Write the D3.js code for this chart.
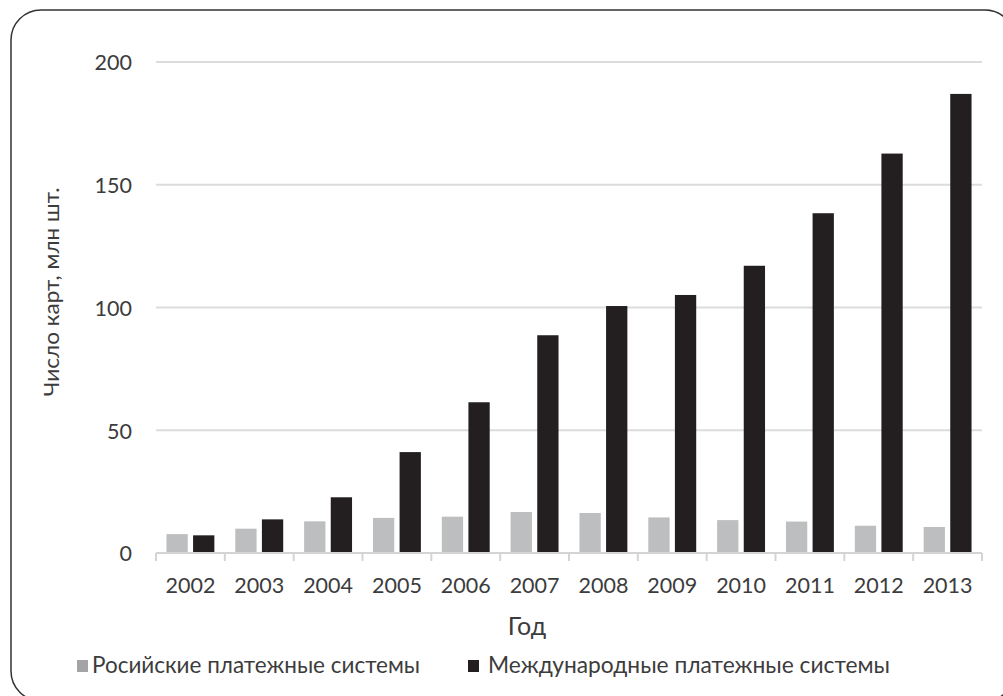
<!DOCTYPE html>
<html>
<head>
<meta charset="utf-8">
<script src="https://cdn.jsdelivr.net/npm/d3@7"></script>
<style>
  html, body { margin: 0; padding: 0; background: #fff; }
  svg { display: block; }
  text { font-family: Lato, "Open Sans", sans-serif; fill: #3c3c3c; }
</style>
</head>
<body>
<svg id="chart" width="1003" height="696"></svg>
<script>
const years = ["2002","2003","2004","2005","2006","2007","2008","2009","2010","2011","2012","2013"];
const russian = [7.7, 9.9, 12.9, 14.3, 14.8, 16.7, 16.3, 14.5, 13.4, 12.8, 11.1, 10.6];
const international = [7.2, 13.7, 22.7, 41.1, 61.4, 88.7, 100.6, 105.1, 117.0, 138.4, 162.7, 187.0];
const yTicks = [0, 50, 100, 150, 200];
const seriesNames = ["Росийские платежные системы", "Международные платежные системы"];
const seriesKeys = ["ru", "intl"];
const yTitle = "Число карт, млн шт.";
const xTitle = "Год";

const barColors = { ru: "#bdbec0", intl: "#231f20" };
const legendColors = { ru: "#a3a4a6", intl: "#231f20" };

const svg = d3.select("#chart");

// frame
svg.append("rect")
  .attr("x", 11).attr("y", 10)
  .attr("width", 1004).attr("height", 691)
  .attr("rx", 30).attr("ry", 30)
  .attr("fill", "none").attr("stroke", "#333").attr("stroke-width", 1.5);

const pLeft = 156, pRight = 982, pTop = 62, pBottom = 553;

const x = d3.scaleBand().domain(years).range([pLeft, pRight]).padding(0);
const xi = d3.scaleBand().domain(seriesKeys).range([0, x.bandwidth()])
  .paddingInner(0.2).paddingOuter(0.393);
const y = d3.scaleLinear().domain([0, 200]).range([pBottom, pTop]);

// gridlines
svg.append("g").selectAll("line").data(yTicks.filter(d => d > 0)).join("line")
  .attr("x1", pLeft).attr("x2", pRight)
  .attr("y1", d => y(d)).attr("y2", d => y(d))
  .attr("stroke", "#dcdcdc").attr("stroke-width", 2);

// y labels
const yAxis = d3.axisLeft(y).tickValues(yTicks).tickSize(0).tickPadding(0);
const gy = svg.append("g").attr("transform", `translate(132,0)`).call(yAxis);
gy.select(".domain").remove();
gy.selectAll("text").attr("font-size", 21.5).style("font-family", "Lato, 'Open Sans', sans-serif")
  .attr("fill", "#3c3c3c").attr("dy", "0.36em");

// data
const data = years.map((yr, i) => ({ year: yr, ru: russian[i], intl: international[i] }));

const groups = svg.append("g").selectAll("g").data(data).join("g")
  .attr("transform", d => `translate(${x(d.year)},0)`);
groups.selectAll("rect").data(d => seriesKeys.map(k => ({ key: k, value: d[k] }))).join("rect")
  .attr("x", d => xi(d.key))
  .attr("width", xi.bandwidth())
  .attr("y", d => y(d.value))
  .attr("height", d => y(0) - y(d.value))
  .attr("fill", d => barColors[d.key]);

// x axis
const xAxis = d3.axisBottom(x).tickSize(0).tickPadding(0);
const gx = svg.append("g").attr("transform", `translate(0,${pBottom})`).call(xAxis);
gx.select(".domain").attr("stroke", "#d4d4d4").attr("stroke-width", 2).attr("d", `M${pLeft},0H${pRight}`);
gx.selectAll("text").attr("font-size", 21.5).style("font-family", "Lato, 'Open Sans', sans-serif")
  .attr("fill", "#3c3c3c").attr("y", 40).attr("dy", 0);
// category boundary ticks
const bounds = years.map(d => x(d)).concat([pRight]);
svg.append("g").selectAll("line").data(bounds).join("line")
  .attr("x1", d => d).attr("x2", d => d)
  .attr("y1", pBottom).attr("y2", pBottom + 8)
  .attr("stroke", "#d4d4d4").attr("stroke-width", 2);

// y title
svg.append("text")
  .attr("transform", "translate(59,292) rotate(-90)")
  .attr("text-anchor", "middle")
  .attr("font-size", 21)
  .attr("textLength", 209).attr("lengthAdjust", "spacingAndGlyphs")
  .text(yTitle);

// x title
svg.append("text")
  .attr("x", 527).attr("y", 635)
  .attr("text-anchor", "middle")
  .attr("font-size", 25)
  .text(xTitle);

// legend
const legendItems = [
  { key: "ru", name: seriesNames[0], sx: 77, tx: 92, w: 328 },
  { key: "intl", name: seriesNames[1], sx: 468, tx: 488, w: 402 }
];
const lg = svg.append("g");
legendItems.forEach(it => {
  lg.append("rect").attr("x", it.sx).attr("y", 660).attr("width", 11).attr("height", 12)
    .attr("fill", legendColors[it.key]);
  lg.append("text").attr("x", it.tx).attr("y", 673)
    .attr("font-size", 22.5)
    .attr("textLength", it.w).attr("lengthAdjust", "spacingAndGlyphs")
    .text(it.name);
});
</script>
</body>
</html>
